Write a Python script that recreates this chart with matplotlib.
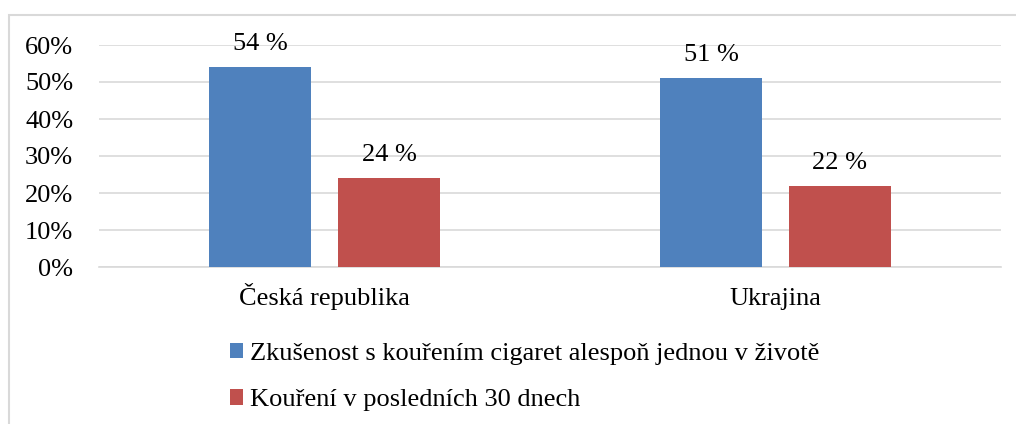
import matplotlib.pyplot as plt
import numpy as np
from matplotlib.patches import Rectangle

plt.rcParams['font.family'] = ['Liberation Serif', 'DejaVu Serif']

countries = ['Česká republika', 'Ukrajina']
ever_smoked = [54, 51]
smoked_30d = [24, 22]
labels_ever = ['54 %', '51 %']
labels_30d = ['24 %', '22 %']
series_names = ['Zkušenost s kouřením cigaret alespoň jednou v životě',
                'Kouření v posledních 30 dnech']
blue = '#4f81bd'
red = '#c0504d'
fs = 19

fig = plt.figure(figsize=(10.16, 4.24), dpi=100)
ax = fig.add_axes([99/1016, 1 - 267/424, (1001-99)/1016, (267-45)/424])

x = np.arange(len(countries))
w = 0.225
off = 0.143
b1 = ax.bar(x - off, ever_smoked, w, color=blue, label=series_names[0], zorder=3)
b2 = ax.bar(x + off, smoked_30d, w, color=red, label=series_names[1], zorder=3)

# value labels above bars
for bars, labs in ((b1, labels_ever), (b2, labels_30d)):
    for r, t in zip(bars, labs):
        ax.text(r.get_x() + r.get_width()/2, r.get_height() + 4.6, t,
                ha='center', va='baseline', fontsize=fs)

ax.set_xlim(-0.5, 1.5)
ax.set_ylim(0, 60)
ax.set_yticks(np.arange(0, 61, 10))
ax.set_yticklabels([f'{v}%' for v in range(0, 61, 10)], fontsize=fs)
ax.set_xticks(x)
ax.set_xticklabels(countries, fontsize=fs, va='baseline')
ax.tick_params(length=0)
ax.tick_params(axis='x', pad=27)
ax.tick_params(axis='y', pad=18.5)
ax.grid(axis='y', color='#d9d9d9', linewidth=1.2, zorder=0)
for s in ['top', 'right', 'left']:
    ax.spines[s].set_visible(False)
ax.spines['bottom'].set_color('#d9d9d9')
ax.spines['bottom'].set_linewidth(1.2)

fig.legend(handles=[b1, b2], loc='upper left', bbox_to_anchor=(219/1016, 1 - 332/424),
           frameon=False, fontsize=fs, handlelength=0.5, handleheight=0.5,
           handletextpad=0.27, labelspacing=0.94, borderaxespad=0)

# chart frame
fig.patches.append(Rectangle((9/1016, -0.1), 1.2, 1 - 15/424 + 0.1, transform=fig.transFigure,
                             fill=False, edgecolor='#d9d9d9', linewidth=1.5))

fig.savefig('out.png', dpi=100)
